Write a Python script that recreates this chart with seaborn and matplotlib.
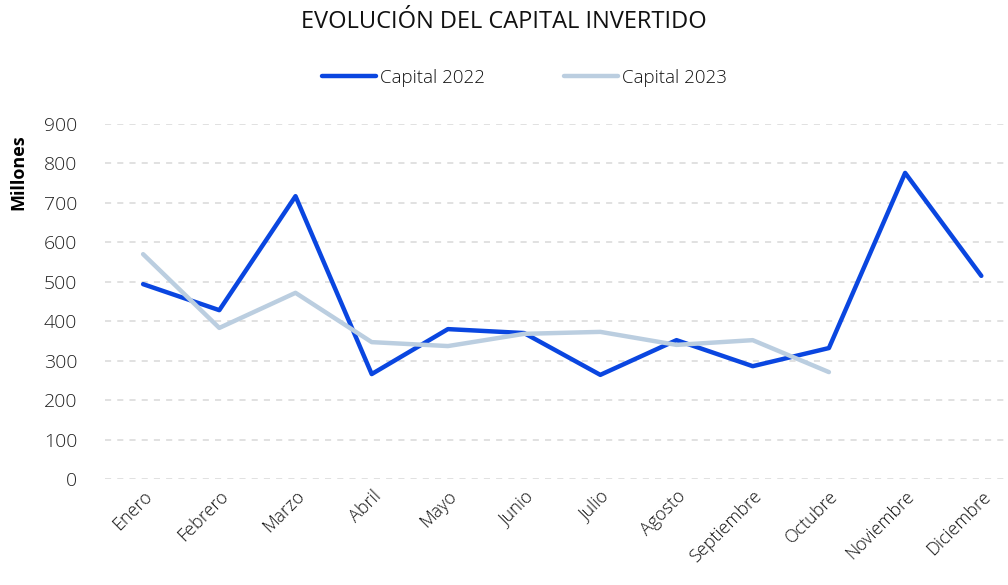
import matplotlib
matplotlib.use("Agg")
import matplotlib.pyplot as plt
import seaborn as sns
import pandas as pd
from matplotlib.lines import Line2D

meses = ["Enero", "Febrero", "Marzo", "Abril", "Mayo", "Junio", "Julio",
         "Agosto", "Septiembre", "Octubre", "Noviembre", "Diciembre"]
capital_2022 = [494, 428, 717, 266, 380, 370, 264, 352, 286, 332, 776, 515]
capital_2023 = [570, 383, 472, 347, 337, 368, 373, 340, 352, 271]

sns.set_theme(style="white")
plt.rcParams['font.family'] = ['Open Sans', 'DejaVu Sans']

df = pd.DataFrame({
    "mes": meses + meses[:len(capital_2023)],
    "valor": capital_2022 + capital_2023,
    "serie": ["Capital 2022"] * len(capital_2022) + ["Capital 2023"] * len(capital_2023),
})
df["x"] = df["mes"].map({m: i for i, m in enumerate(meses)})

fig = plt.figure(figsize=(10.08, 5.85), dpi=100)
ax = fig.add_axes([105/1008, 106/585, 1 - 105/1008, 355/585])

sns.lineplot(data=df, x="x", y="valor", hue="serie",
             palette={"Capital 2022": "#0A46E0", "Capital 2023": "#BBCEE0"},
             linewidth=3.2, ax=ax, legend=False, sort=False)

ax.set_ylim(0, 900)
ax.set_xlim(-0.5, 11.35)
ax.set_yticks(range(0, 901, 100))
ax.set_xticks(range(len(meses)))
ax.set_xticklabels(meses, rotation=45, ha="right", rotation_mode="anchor",
                   fontsize=13, fontweight="light", color="#111111")
ax.tick_params(axis="y", labelsize=14, colors="#222222", length=0, pad=20)
ax.tick_params(axis="x", length=0, pad=6)
for lbl in ax.get_yticklabels():
    lbl.set_fontweight("light")
ax.yaxis.grid(True, linestyle=(0, (4, 4)), color="#D9D9D9", linewidth=1.1)
ax.set_axisbelow(True)
for s in ax.spines.values():
    s.set_visible(False)
ax.set_xlabel("")
ax.set_ylabel("Millones", fontsize=13, fontweight="bold", color="black")
ax.yaxis.set_label_coords(-0.086, (479 - 172) / 355)

fig.text(0.5, 1 - 22/585, "EVOLUCIÓN DEL CAPITAL INVERTIDO", ha="center", va="center",
         fontsize=17, color="#111111")

handles = [Line2D([], [], color="#0A46E0", lw=3.2), Line2D([], [], color="#BBCEE0", lw=3.2)]
leg = fig.legend(handles, ["Capital 2022", "Capital 2023"], loc="center",
                 bbox_to_anchor=(0.52, 1 - 78/585), ncol=2, frameon=False, fontsize=13.5,
                 handlelength=2.9, handletextpad=0.2, columnspacing=4.2)
for t in leg.get_texts():
    t.set_fontweight("light")
    t.set_color("#111111")

fig.savefig("out.png", dpi=100)
